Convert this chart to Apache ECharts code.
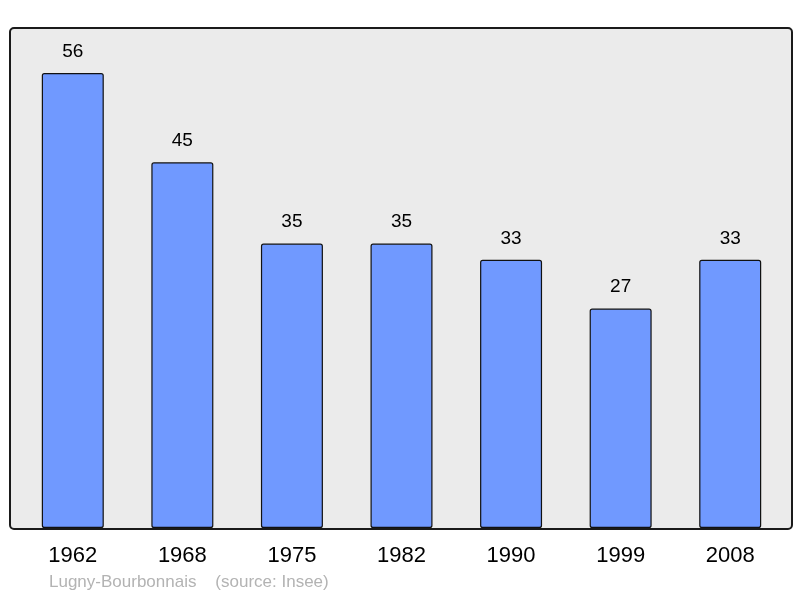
<!DOCTYPE html>
<html><head><meta charset="utf-8">
<script src="https://cdn.jsdelivr.net/npm/echarts@6/dist/echarts.min.js"></script>
<style>html,body{margin:0;padding:0;background:#fff}#c{width:800px;height:598px}</style>
</head><body><div id="c"></div>
<script>
const categories = ['1962','1968','1975','1982','1990','1999','2008'];
const populations = [56,45,35,35,33,27,33];
const sourceText = 'Lugny-Bourbonnais    (source: Insee)';

const chart = echarts.init(document.getElementById('c'));
chart.setOption({
  animation: false,
  backgroundColor: '#ffffff',
  graphic: [
    {type:'rect', left:9, top:27, shape:{width:782, height:501, r:4}, style:{fill:'#ebebeb', stroke:'#1a1a1a', lineWidth:2}, z:-10},
    {type:'text', left:49, top:574, style:{text:sourceText, fill:'#b3b3b3', font:'17px "Liberation Sans", Arial, sans-serif'}}
  ],
  grid: {left:18, right:15, top:27, bottom:70},
  xAxis: {
    type:'category', data:categories,
    axisLine:{show:false}, axisTick:{show:false},
    axisLabel:{color:'#000', fontSize:22, fontFamily:'Liberation Sans', margin:17}
  },
  yAxis: {type:'value', min:0, max:61.66, show:false, splitLine:{show:false}},
  series: [{
    type:'bar', data:populations, barWidth:62,
    itemStyle:{color:'#7099ff', borderColor:'#111', borderWidth:1.2, borderRadius:2},
    label:{show:true, position:'top', distance:12, color:'#000', fontSize:19, fontFamily:'Liberation Sans'}
  }]
});
</script></body></html>
